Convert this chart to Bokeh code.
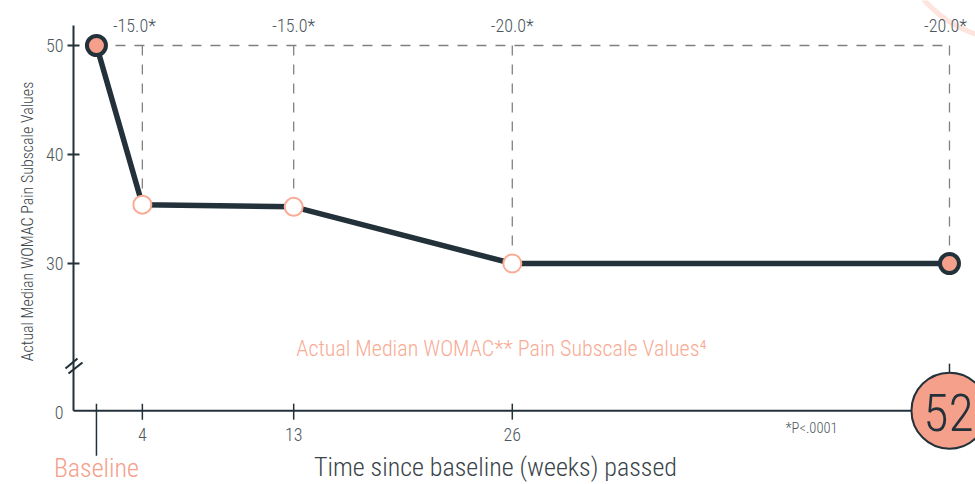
import math
from bokeh.plotting import figure
from bokeh.models import Range1d
from bokeh.core.properties import value
from bokeh.embed import file_html
from bokeh.resources import INLINE

# ---------------- data ----------------
time_labels = ["Baseline", "4", "13", "26", "52"]
x_weeks = [1.27, 4, 13, 26, 52]          # baseline drawn just right of the origin
median_womac = [50.0, 35.4, 35.2, 30.0, 30.0]
change_labels = ["-15.0*", "-15.0*", "-20.0*", "-20.0*"]
y_ticks = [50, 40, 30]
y_tick_labels = ["50", "40", "30"]
zero_label = "0"
p_note = "*P<.0001"
series_title = "Actual Median WOMAC** Pain Subscale Values\u2074"
x_title = "Time since baseline (weeks) passed"
y_title = "Actual Median WOMAC Pain Subscale Values"

# ---------------- layout ----------------
W, H = 975, 484
PXW = 16.815        # px per week
PXV = 10.9          # px per WOMAC unit
X0_PX = 74.6        # canvas x of week 0
Y50_PX = 45.0       # canvas y of value 50
AXIS_Y = 16.5       # value row at which the (broken) x axis sits, shown as "0"
AXIS_X = -0.095
change_label_shift = [-8, 0, 0, -4]   # px nudges of the change labels


def px(cx, cy):
    return (cx - X0_PX) / PXW, 50 - (cy - Y50_PX) / PXV


x0, y1 = px(0, 0)
x1, y0 = px(W, H)

FONT = value("Roboto Condensed Light")
DARK = "#22313a"
SALMON = "#f4a08a"
SALMON_L = "#f8ab95"
GREY = "#4d575d"
DASH = "#808080"

p = figure(width=W, height=H, output_backend="svg", toolbar_location=None,
           x_axis_type=None, y_axis_type=None, min_border=0,
           x_range=Range1d(x0, x1), y_range=Range1d(y0, y1))
p.outline_line_color = None
p.grid.visible = False
p.background_fill_color = "white"

# faint decorative arc (top right)
ax, ay = px(1010, -75)
p.scatter([ax], [ay], size=228, fill_color=None, line_color="#fde4dc", line_width=5)

# dashed reference lines from baseline level
p.segment([x_weeks[0]], [median_womac[0]], [x_weeks[-1]], [median_womac[0]],
          line_color=DASH, line_width=1.3, line_dash="10 9")
p.segment(x_weeks[1:], [median_womac[0]] * 4, x_weeks[1:], median_womac[1:],
          line_color=DASH, line_width=1.3, line_dash="10 9")

# axes
p.segment([AXIS_X], [AXIS_Y], [AXIS_X], [51.83], line_color=DARK, line_width=2)
p.segment([AXIS_X], [AXIS_Y], [x_weeks[-1]], [AXIS_Y], line_color=DARK, line_width=2)
# y ticks
p.segment([AXIS_X - 6 / PXW] * 3, y_ticks, [AXIS_X + 6 / PXW] * 3, y_ticks,
          line_color=DARK, line_width=2)
# x ticks (4, 13, 26)
p.segment(x_weeks[1:4], [AXIS_Y + 7 / PXV] * 3, x_weeks[1:4], [AXIS_Y - 9 / PXV] * 3,
          line_color=DARK, line_width=1.5)
# baseline tick (long)
p.segment([x_weeks[0]], [AXIS_Y + 7 / PXV], [x_weeks[0]], [AXIS_Y - 45 / PXV],
          line_color=DARK, line_width=1.5)
# 52 tick
p.segment([x_weeks[-1]], [AXIS_Y], [x_weeks[-1]], [AXIS_Y + 47 / PXV],
          line_color=DARK, line_width=1.5)
# axis break marks
b1 = px(65, 368) + px(77, 358)
b2 = px(68, 373) + px(82, 362)
p.segment([b1[0], b2[0]], [b1[1], b2[1]], [b1[2], b2[2]], [b1[3], b2[3]],
          line_color=DARK, line_width=2.2)

# series line and markers
p.line(x_weeks, median_womac, line_color=DARK, line_width=5.5)
p.scatter([x_weeks[i] for i in (1, 2, 3)], [median_womac[i] for i in (1, 2, 3)],
          size=18, fill_color="white", line_color=SALMON_L, line_width=2)
p.scatter([x_weeks[i] for i in (0, 4)], [median_womac[i] for i in (0, 4)],
          size=19, fill_color=SALMON, line_color=DARK, line_width=4)

# 52-week badge
p.scatter([x_weeks[-1]], [AXIS_Y], size=76, fill_color=SALMON, line_color=DARK, line_width=2)
p.text([x_weeks[-1]], [AXIS_Y], text=[time_labels[-1]], text_font=FONT,
       text_font_size="52px", text_color=DARK, text_align="center",
       text_baseline="middle", x_offset=-1, y_offset=2)

# change labels
p.text(x_weeks[1:], [median_womac[0]] * 4, text=change_labels, text_font=FONT,
       text_font_size="18px", text_color=GREY, text_align="center",
       text_baseline="middle", y_offset=-20, x_offset=change_label_shift)

# y tick labels
p.text([AXIS_X] * 3, y_ticks, text=y_tick_labels, text_font=FONT, text_font_size="18px",
       text_color=GREY, text_align="right", text_baseline="middle", x_offset=-10)
p.text([AXIS_X], [AXIS_Y], text=[zero_label], text_font=FONT, text_font_size="18px",
       text_color=GREY, text_align="right", text_baseline="middle", x_offset=-10, y_offset=2)

# x tick labels
p.text(x_weeks[1:4], [AXIS_Y] * 3, text=time_labels[1:4], text_font=FONT,
       text_font_size="18px", text_color=GREY, text_align="center",
       text_baseline="top", y_offset=17)
p.text([x_weeks[0]], [AXIS_Y], text=[time_labels[0]], text_font=FONT,
       text_font_size="26px", text_color=SALMON, text_align="center",
       text_baseline="middle", y_offset=57)

# p-value note
nx, ny = px(811, 428)
p.text([nx], [ny], text=[p_note], text_font=FONT, text_font_size="14.5px",
       text_color=GREY, text_align="center", text_baseline="middle")

# series title
sx, sy = px(501, 348)
p.text([sx], [sy], text=[series_title], text_font=FONT, text_font_size="22px",
       text_color=SALMON_L, text_align="center", text_baseline="middle")

# axis titles
tx, ty = px(495, 466)
p.text([tx], [ty], text=[x_title], text_font=FONT, text_font_size="26px",
       text_color="#3a4449", text_align="center", text_baseline="middle")
yx, yy = px(27, 221)
p.text([yx], [yy], text=[y_title], text_font=FONT, text_font_size="16px",
       text_color="#3a4449", text_align="center", text_baseline="middle",
       angle=math.pi / 2)

open("out.html", "w").write(file_html(p, INLINE))
